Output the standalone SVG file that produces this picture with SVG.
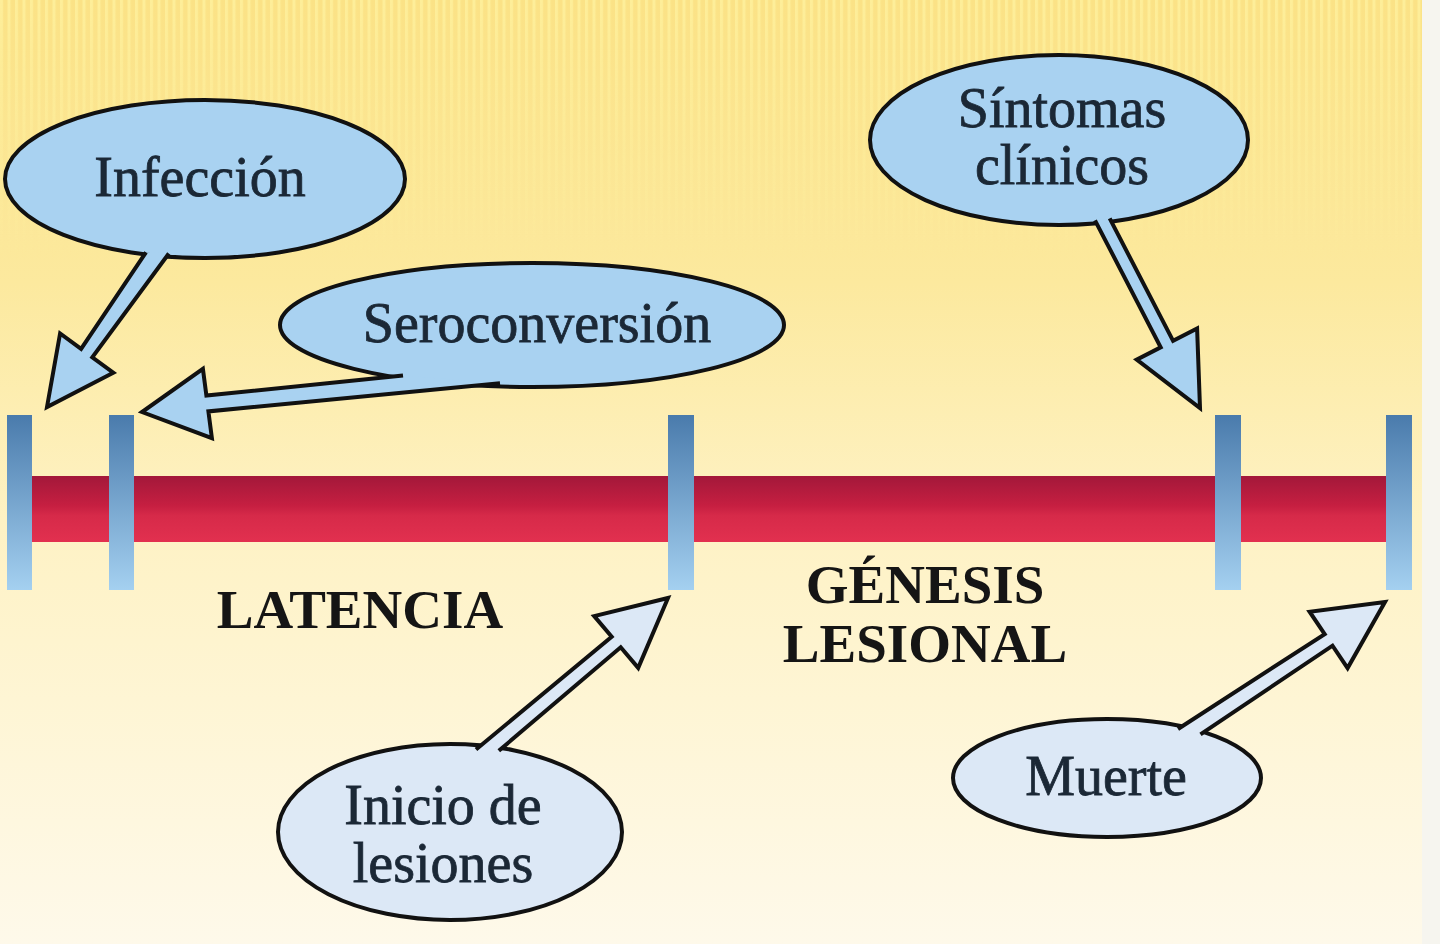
<svg xmlns="http://www.w3.org/2000/svg" width="1440" height="944" viewBox="0 0 1440 944">
  <defs>
    <linearGradient id="bg" x1="0" y1="0" x2="0" y2="1">
      <stop offset="0" stop-color="#FBE286"/>
      <stop offset="0.3" stop-color="#FCE99E"/>
      <stop offset="0.55" stop-color="#FEF2C4"/>
      <stop offset="1" stop-color="#FEF9EA"/>
    </linearGradient>
    <linearGradient id="bar" x1="0" y1="0" x2="0" y2="1">
      <stop offset="0" stop-color="#A3183A"/>
      <stop offset="0.45" stop-color="#C61F41"/>
      <stop offset="0.6" stop-color="#D62A49"/>
      <stop offset="1" stop-color="#E2304F"/>
    </linearGradient>
    <linearGradient id="tick" x1="0" y1="0" x2="0" y2="1">
      <stop offset="0" stop-color="#4A7BAC"/>
      <stop offset="1" stop-color="#A4D0F0"/>
    </linearGradient>
    <linearGradient id="fade" x1="0" y1="0" x2="0" y2="1">
      <stop offset="0" stop-color="#fff" stop-opacity="1"/>
      <stop offset="1" stop-color="#fff" stop-opacity="0"/>
    </linearGradient>
    <mask id="stripeMask">
      <rect x="0" y="0" width="1422" height="260" fill="url(#fade)"/>
    </mask>
    <pattern id="stripes" x="0" y="0" width="7.5" height="10" patternUnits="userSpaceOnUse">
      <rect x="0" y="0" width="3" height="10" fill="#FFF6A6"/>
    </pattern>
  </defs>
  <style>
    .node-blue { fill: #A9D2F1; stroke: #111; stroke-width: 4; }
    .node-pale { fill: #DCE8F6; stroke: #111; stroke-width: 4; }
    .arrow-blue { fill: #A9D2F1; stroke: #111; stroke-width: 4; stroke-linejoin: miter; stroke-linecap: butt; }
    .arrow-pale { fill: #DCE8F6; stroke: #111; stroke-width: 4; stroke-linejoin: miter; stroke-linecap: butt; }
    .lbl { font-family: "Liberation Serif", "Times New Roman", serif; font-size: 56px; fill: #1B2836; stroke: #1B2836; stroke-width: 0.8; text-anchor: middle; }
    .phase { font-family: "Liberation Serif", "Times New Roman", serif; font-size: 55px; font-weight: bold; fill: #151515; text-anchor: middle; }
    .tick { fill: url(#tick); }
  </style>

  <!-- background -->
  <rect x="0" y="0" width="1440" height="944" fill="#F6F5EF"/>
  <rect x="0" y="0" width="1422" height="944" fill="url(#bg)"/>
  <rect x="0" y="0" width="1422" height="260" fill="url(#stripes)" mask="url(#stripeMask)" opacity="0.6"/>

  <!-- timeline -->
  <g id="timeline">
    <rect x="30" y="476" width="1358" height="66" fill="url(#bar)"/>
    <rect class="tick" x="7" y="415" width="25" height="175"/>
    <rect class="tick" x="109" y="415" width="25" height="175"/>
    <rect class="tick" x="668" y="415" width="26" height="175"/>
    <rect class="tick" x="1215" y="415" width="26" height="175"/>
    <rect class="tick" x="1386" y="415" width="26" height="175"/>
  </g>

  <!-- phase labels -->
  <g id="latencia">
    <text class="phase" x="360" y="628">LATENCIA</text>
  </g>
  <g id="genesis-lesional">
    <text class="phase" x="925" y="603">GÉNESIS</text>
    <text class="phase" x="925" y="662">LESIONAL</text>
  </g>

  <!-- nodes -->
  <g id="infeccion">
    <ellipse class="node-blue" cx="205" cy="179" rx="200" ry="79"/>
    <text class="lbl" x="200" y="196">Infección</text>
  </g>
  <g id="seroconversion">
    <ellipse class="node-blue" cx="532" cy="325" rx="252" ry="62"/>
    <text class="lbl" x="537" y="342">Seroconversión</text>
  </g>
  <g id="sintomas">
    <ellipse class="node-blue" cx="1059" cy="140" rx="189" ry="85"/>
    <text class="lbl" x="1062" y="127">Síntomas</text>
    <text class="lbl" x="1062" y="184">clínicos</text>
  </g>
  <g id="inicio">
    <ellipse class="node-pale" cx="450" cy="832" rx="172" ry="88"/>
    <text class="lbl" x="443" y="824">Inicio de</text>
    <text class="lbl" x="443" y="882">lesiones</text>
  </g>
  <g id="muerte">
    <ellipse class="node-pale" cx="1107" cy="778" rx="154" ry="59"/>
    <text class="lbl" x="1106" y="795">Muerte</text>
  </g>

  <!-- connectors (open paths: tail chord is filled but not stroked) -->
  <g id="connectors">
    <path class="arrow-blue" d="M 168.8,253.5 L 92.3,357.3 L 113.3,372.7 L 47,407 L 60.1,333.5 L 81.1,348.9 L 146,252.3"/>
    <path class="arrow-blue" d="M 403,375.5 L 206.4,395.6 L 202.9,368.8 L 142,412 L 211.9,438.2 L 208.4,411.4 L 500,383.3"/>
    <path class="arrow-blue" d="M 1109.7,218.4 L 1173.1,340.9 L 1197.1,328.5 L 1200,408 L 1136.7,359.7 L 1160.7,347.3 L 1095,220.3"/>
    <path class="arrow-pale" d="M 498.8,750.8 L 620.7,647.3 L 638.2,667.9 L 668,598 L 594.2,616.1 L 611.7,636.7 L 476,749.5"/>
    <path class="arrow-pale" d="M 1200.5,734.4 L 1332.5,645.7 L 1347.6,668.1 L 1385,602 L 1309.6,611.7 L 1324.7,634.1 L 1178,729"/>
  </g>
</svg>
